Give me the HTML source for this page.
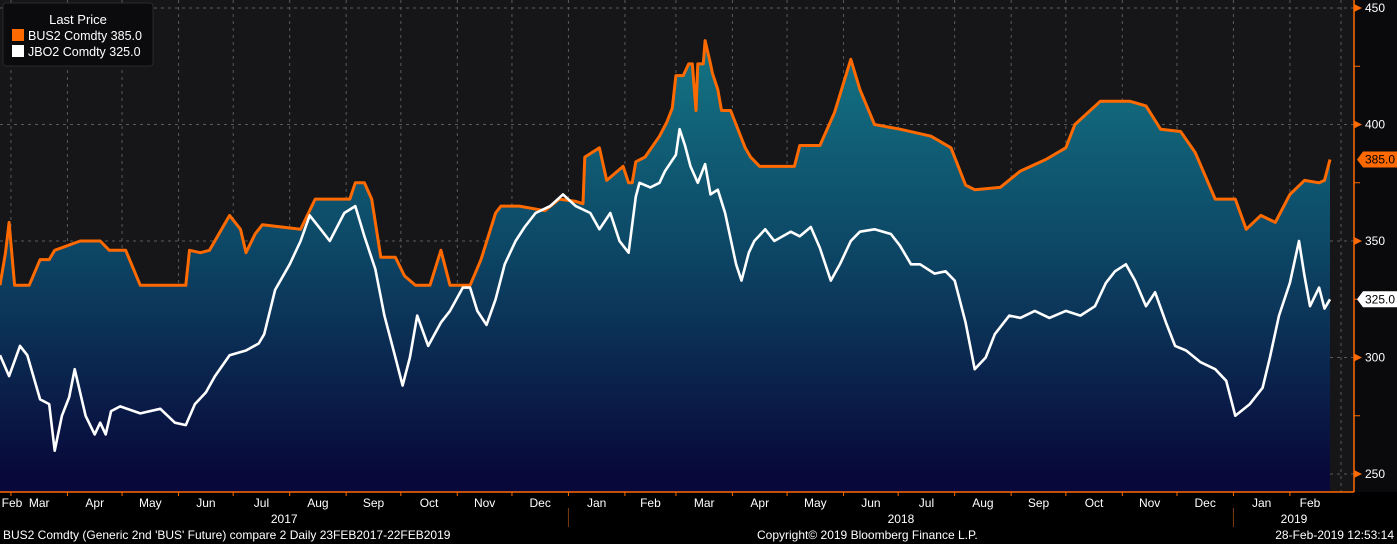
<!DOCTYPE html>
<html><head><meta charset="utf-8"><style>
html,body{margin:0;padding:0;background:#000;}
svg{display:block;font-family:"Liberation Sans",Arial,sans-serif;}
</style></head><body>
<svg id="chart" width="1397" height="544" viewBox="0 0 1397 544" xmlns="http://www.w3.org/2000/svg">
<defs>
<linearGradient id="area" gradientUnits="userSpaceOnUse" x1="0" y1="40" x2="0" y2="475">
<stop offset="0" stop-color="#147584"/>
<stop offset="0.45" stop-color="#0d4a68"/>
<stop offset="1" stop-color="#08083a"/>
</linearGradient>
</defs>
<rect x="0" y="0" width="1354" height="492" fill="#161517"/>
<g id="grid"></g>
<path id="areaPath" fill="url(#area)"/>
<path id="busLine" fill="none" stroke="#ff6a00" stroke-width="3" stroke-linejoin="round"/>
<path id="jboLine" fill="none" stroke="#ffffff" stroke-width="2.6" stroke-linejoin="round"/>
<g id="axis"></g>
<g id="xaxis"></g>
<g>
<rect x="3" y="3" width="150" height="63" rx="3" fill="#0b0b0d" stroke="#2a2a2a"/>
<text x="78" y="24" fill="#fff" font-size="13" text-anchor="middle">Last Price</text>
<rect x="12" y="29" width="12" height="12" fill="#ff6a00"/>
<text x="28" y="40" fill="#fff" font-size="12.5">BUS2 Comdty 385.0</text>
<rect x="12" y="45" width="12" height="12" fill="#fff"/>
<text x="28" y="56" fill="#fff" font-size="12.5">JBO2 Comdty 325.0</text>
</g>
<text x="3" y="539" fill="#fff" font-size="12">BUS2 Comdty (Generic 2nd 'BUS' Future) compare 2  Daily 23FEB2017-22FEB2019</text>
<text x="757" y="539" fill="#fff" font-size="12">Copyright© 2019 Bloomberg Finance L.P.</text>
<text x="1394" y="539" fill="#fff" font-size="12" text-anchor="end">28-Feb-2019 12:53:14</text>
</svg>
<script>
// days since 23-Feb-2017
const busDays=[0,3,5,8,16,22,27,30,44,55,60,69,77,102,104,110,115,126,132,135,140,144,165,173,192,195,200,204,209,217,222,228,236,242,247,258,264,272,275,285,299,307,316,320,321,329,333,342,345,347,349,354,362,366,369,371,375,378,380,382,383,386,387,390,391,394,396,401,406,409,412,417,436,439,450,458,467,472,480,494,511,522,530,535,549,560,574,585,590,604,620,629,637,648,656,667,678,684,692,700,708,716,724,727,730];
const busVals=[331,345,358,331,331,342,342,346,350,350,346,346,331,331,346,345,346,361,355,345,353,357,355,368,368,375,375,368,343,343,335,331,331,346,331,331,342,362,365,365,363,368,367,366,386,390,376,382,375,375,384,386,395,401,407,421,421,426,426,406,426,426,436,426,422,415,406,406,396,390,386,382,382,391,391,405,428,415,400,398,395,390,374,372,373,380,385,390,400,410,410,408,398,397,388,368,368,355,361,358,370,376,375,376,385];
const jboDays=[0,5,11,15,22,27,30,34,38,41,47,52,55,58,61,66,77,88,96,102,107,113,118,126,135,142,145,151,159,165,170,176,181,189,195,200,206,211,217,221,225,229,235,242,247,254,258,262,267,272,277,283,288,294,302,309,316,324,329,335,340,345,349,351,357,362,365,371,373,376,379,383,387,390,394,398,404,407,411,414,420,425,434,439,445,450,456,461,467,472,480,489,494,500,505,513,519,524,530,535,541,546,554,560,568,576,585,593,601,607,612,618,623,629,634,640,645,651,659,667,673,678,686,693,697,702,708,713,716,719,724,727,730];
const jboVals=[301,292,305,301,282,280,260,275,283,295,275,267,272,267,277,279,276,278,272,271,280,285,292,301,303,306,310,329,340,350,361,355,350,362,365,352,338,318,300,288,300,318,305,315,320,330,330,320,314,325,340,350,356,362,365,370,365,362,355,362,350,345,369,375,373,375,380,387,398,391,382,375,383,370,372,362,340,333,345,350,355,350,354,352,356,347,333,340,350,354,355,353,348,340,340,336,337,333,315,295,300,310,318,317,320,317,320,318,322,332,337,340,333,322,328,315,305,303,298,295,290,275,280,287,300,318,332,350,335,322,330,321,325];
const yTicks=[250,300,350,400,450];
const monthLabels=["Feb","Mar","Apr","May","Jun","Jul","Aug","Sep","Oct","Nov","Dec","Jan","Feb","Mar","Apr","May","Jun","Jul","Aug","Sep","Oct","Nov","Dec","Jan","Feb"];
const monthStartDays=[-22,6,37,67,98,128,159,190,220,251,281,312,343,371,402,432,463,493,524,555,585,616,646,677,708,736];
const yearLabels=["2017","2018","2019"];
const lastBus=385.0, lastJbo=325.0;

const NS="http://www.w3.org/2000/svg";
const PX_PER_DAY=1330/730;
function xs(d){return d*PX_PER_DAY;}
function ys(v){return 8+(450-v)*(466/200);}
function el(t,a,p){const e=document.createElementNS(NS,t);for(const k in a)e.setAttribute(k,a[k]);if(p)p.appendChild(e);return e;}
function series(dArr,vArr){
  const n=Math.min(dArr.length,vArr.length);const pts=[];
  for(let i=0;i<n;i++)pts.push([xs(dArr[i]),ys(vArr[i])]);
  return pts;
}
const busPts=series(busDays,busVals);
const jboPts=series(jboDays,jboVals);
function pathOf(p){return p.map((q,i)=>(i?'L':'M')+q[0].toFixed(1)+' '+q[1].toFixed(1)).join(' ');}
document.getElementById('busLine').setAttribute('d',pathOf(busPts));
document.getElementById('jboLine').setAttribute('d',pathOf(jboPts));
document.getElementById('areaPath').setAttribute('d',pathOf(busPts)+` L${busPts[busPts.length-1][0]} 492 L0 492 Z`);

const grid=document.getElementById('grid');
yTicks.forEach(v=>{
  const g=el('line',{x1:0,x2:1354,y1:ys(v),y2:ys(v),stroke:'#5a5a5a','stroke-dasharray':'3 4','stroke-width':1},grid);
  
  
});
monthStartDays.forEach((d)=>{
  if(d<0||d>730)return;
  const g=el('line',{x1:xs(d),x2:xs(d),y1:0,y2:492,stroke:'#5a5a5a','stroke-dasharray':'3 4','stroke-width':1},grid);
  
  
});
el('line',{x1:1341,x2:1341,y1:0,y2:492,stroke:'#5a5a5a','stroke-dasharray':'3 4'},grid);

const ax=document.getElementById('axis');
el('rect',{x:1354,y:0,width:43,height:492,fill:'#0a0a0c'},ax);
el('line',{x1:1354,x2:1354,y1:0,y2:492,stroke:'#ff6a00','stroke-width':1.5},ax);
el('line',{x1:0,x2:1354,y1:492,y2:492,stroke:'#ff6a00','stroke-width':1.5},ax);
for(let v=250;v<=450;v+=25){el('line',{x1:1354,x2:1360,y1:ys(v),y2:ys(v),stroke:'#ff6a00'},ax);}
yTicks.forEach(v=>{
  el('path',{d:`M1354 ${ys(v)-4} L1362 ${ys(v)} L1354 ${ys(v)+4} Z`,fill:'#ff6a00'},ax);
  const t=el('text',{x:1365,y:ys(v)+4,fill:'#fff','font-size':12},ax);
  t.textContent=v;
  
  
});
function tag(v,fill,txt,name){
  const y=ys(v);
  const g=el('g',{},ax);
  
  
  el('path',{d:`M1357 ${y} L1363 ${y-8} L1397 ${y-8} L1397 ${y+8} L1363 ${y+8} Z`,fill:fill},g);
  const t=el('text',{x:1365,y:y+4,fill:'#000','font-size':12},g);
  t.textContent=txt;
}
tag(lastBus,'#ff6a00',lastBus.toFixed(1),'bus2-last-price-tag');
tag(lastJbo,'#ffffff',lastJbo.toFixed(1),'jbo2-last-price-tag');

const xa=document.getElementById('xaxis');
monthLabels.forEach((m,i)=>{
  const a=Math.max(0,xs(monthStartDays[i])), b=Math.min(1330,xs(monthStartDays[i+1]));
  let cx=(a+b)/2; if(i===0)cx=12;
  const t=el('text',{x:cx,y:507,fill:'#fff','font-size':12,'text-anchor':'middle'},xa);
  t.textContent=m;
  
  
  if(monthStartDays[i]>=0) el('line',{x1:xs(monthStartDays[i]),x2:xs(monthStartDays[i]),y1:492,y2:496,stroke:'#ff6a00'},xa);
});
const yrBounds=[0,xs(312),xs(677),1354];
yearLabels.forEach((y,i)=>{
  const t=el('text',{x:i==2?1294:(yrBounds[i]+yrBounds[i+1])/2,y:523,fill:'#fff','font-size':12,'text-anchor':'middle'},xa);
  t.textContent=y;
  
  
});
[xs(312),xs(677)].forEach(x=>el('line',{x1:x,x2:x,y1:508,y2:527,stroke:'#7a3a10'},xa));
</script>
</body></html>
